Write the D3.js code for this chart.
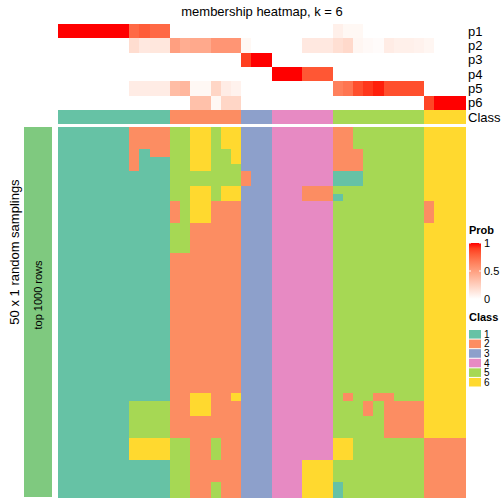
<!DOCTYPE html>
<html><head><meta charset="utf-8">
<script src="https://cdn.jsdelivr.net/npm/d3@7"></script>
<style>body{margin:0;background:#fff;} svg{display:block;font-family:"Liberation Sans",Arial,sans-serif;} rect.cell{shape-rendering:crispEdges;}</style>
</head><body><svg id="c" width="504" height="504"></svg>
<script>
const title = "membership heatmap, k = 6";
const probRows = ["p1","p2","p3","p4","p5","p6"];
const classes = ["1","2","3","4","5","6"];
const classColors = ["#66C2A5","#FC8D62","#8DA0CB","#E78AC3","#A6D854","#FFD92F"];
const colClass = [1,1,1,1,1,1,1,1,1,1,1, 2,2,2,2,2,2,2, 3,3,3, 4,4,4,4,4,4, 5,5,5,5,5,5,5,5,5, 6,6,6,6];
const p1 = [1,1,1,1,1,1,1,0.75,0.8,0.75,0.75, 0,0,0,0,0,0,0, 0,0,0, 0,0,0,0,0,0, 0.08,0.04,0.04,0,0,0,0,0,0, 0,0,0,0];
const p2 = [0,0,0,0,0,0,0,0.18,0.12,0.13,0.13, 0.5,0.43,0.45,0.45,0.55,0.55,0.55, 0.04,0,0, 0,0,0,0.12,0.12,0.12, 0.17,0.2,0.05,0.03,0.02,0.1,0.08,0.08,0.07, 0.05,0,0,0];
const p3 = [0,0,0,0,0,0,0,0,0,0,0, 0,0,0,0,0,0,0, 0.9,1,1, 0,0,0,0,0,0, 0,0,0,0,0,0,0,0,0, 0,0,0,0];
const p4 = [0,0,0,0,0,0,0,0,0,0,0, 0,0,0,0,0,0,0, 0,0,0, 1,1,1,0.82,0.82,0.82, 0,0,0,0,0,0,0,0,0, 0,0,0,0];
const p5 = [0,0,0,0,0,0,0,0.1,0.1,0.1,0.1, 0.35,0.38,0.04,0.04,0.22,0.1,0.07, 0,0,0, 0,0,0,0,0,0, 0.65,0.7,0.85,0.92,0.97,0.85,0.85,0.85,0.85, 0,0,0,0];
const p6 = [0,0,0,0,0,0,0,0,0,0,0, 0,0,0.33,0.33,0.04,0.22,0.22, 0,0,0, 0,0,0,0,0,0, 0,0,0,0,0,0,0,0,0, 0.88,1,1,1];
const samplings = [
"1111111222255665663334444442255555556666",
"1111111222255665663334444442255555556666",
"1111111222255665663334444442255555556666",
"1111111212255665563334444442225555556666",
"1111111211155665563334444442225555556666",
"1111111211155665553334444442225555556666",
"1111111111155555552334444441115555556666",
"1111111111155555552334444441115555556666",
"1111111111155665663334442225555555556666",
"1111111111155665663334442221555555556666",
"1111111111125662223334444445555555552666",
"1111111111125662223334444445555555552666",
"1111111111125662223334444445555555552666",
"1111111111155222223334444445555555556666",
"1111111111155222223334444445555555556666",
"1111111111155222223334444445555555556666",
"1111111111155222223334444445555555556666",
"1111111111122222223334444445555555556666",
"1111111111122222223334444445555555556666",
"1111111111122222223334444445555555556666",
"1111111111122222223334444445555555556666",
"1111111111122222223334444445555555556666",
"1111111111122222223334444445555555556666",
"1111111111122222223334444445555555556666",
"1111111111122222223334444445555555556666",
"1111111111122222223334444445555555556666",
"1111111111122222223334444445555555556666",
"1111111111122222223334444445555555556666",
"1111111111122222223334444445555555556666",
"1111111111122222223334444445555555556666",
"1111111111122222223334444445555555556666",
"1111111111122222223334444445555555556666",
"1111111111122222223334444445555555556666",
"1111111111122222223334444445555555556666",
"1111111111122222223334444445555555556666",
"1111111111122222223334444445555555556666",
"1111111111122662263334444445255225556666",
"1111111555522662223334444445552522226666",
"1111111555522662223334444445552522226666",
"1111111555522222223334444445555522226666",
"1111111555522222223334444445555522226666",
"1111111555522222223334444445555522226666",
"1111111666655225223334444446655555552222",
"1111111666655225223334444446655555552222",
"1111111666655225223334444446655555552222",
"1111111111155222223334446665555555552222",
"1111111111155222223334446665555555552222",
"1111111111155222223334446665555555552222",
"1111111111155225223334446661555555552222",
"1111111111155225223334446661555555552222"
];
const probTicks = [0, 0.5, 1];
const leftTitle = "50 x 1 random samplings";
const annoLabel = "top 1000 rows";

const svg = d3.select("#c");
const nCol = colClass.length;
const x = d3.scaleBand().domain(d3.range(nCol)).range([58, 465]);
const yTop = d3.scaleBand().domain(probRows).range([24, 110]);
const yBot = d3.scaleBand().domain(d3.range(samplings.length)).range([127, 497]);
const probColor = d3.scaleLinear().domain([0,1]).range(["#ffffff","#ff0000"]).interpolate(d3.interpolateLab);
const classColor = d3.scaleOrdinal().domain(classes).range(classColors);

// title
svg.append("text").attr("x", 262).attr("y", 16).attr("text-anchor","middle")
  .attr("font-size", 13).text(title);

// top probability heatmap
const probData = [p1,p2,p3,p4,p5,p6];
probRows.forEach((r, ri) => {
  svg.append("g").selectAll("rect").data(probData[ri]).join("rect").attr("class","cell")
    .attr("x", (d,i) => x(i)).attr("y", yTop(r))
    .attr("width", x.bandwidth()+0.5).attr("height", yTop.bandwidth()+0.5)
    .attr("fill", d => probColor(d));
  svg.append("text").attr("x", 468).attr("y", yTop(r)+yTop.bandwidth()/2)
    .attr("dy","0.35em").attr("font-size", 13).text(r);
});
// class annotation row
svg.append("g").selectAll("rect").data(colClass).join("rect").attr("class","cell")
  .attr("x", (d,i) => x(i)).attr("y", 110).attr("width", x.bandwidth()+0.5).attr("height", 14)
  .attr("fill", d => classColor(String(d)));
svg.append("text").attr("x", 468).attr("y", 117).attr("dy","0.35em").attr("font-size", 13).text("Class");

// bottom samplings heatmap
samplings.forEach((row, ri) => {
  svg.append("g").selectAll("rect").data(row.split("")).join("rect").attr("class","cell")
    .attr("x", (d,i) => x(i)).attr("y", yBot(ri))
    .attr("width", x.bandwidth()+0.5).attr("height", yBot.bandwidth()+0.5)
    .attr("fill", d => classColor(d));
});

// left annotation bar
svg.append("rect").attr("class","cell").attr("x", 24).attr("y", 127).attr("width", 28).attr("height", 370).attr("fill", "#7FC97F");
svg.append("text").attr("transform","translate(38,295) rotate(-90)").attr("text-anchor","middle")
  .attr("dy","0.35em").attr("font-size", 11).text(annoLabel);
svg.append("text").attr("transform","translate(14,252) rotate(-90)").attr("text-anchor","middle")
  .attr("dy","0.35em").attr("font-size", 13).text(leftTitle);

// Prob legend
const lg = svg.append("g");
lg.append("text").attr("x", 469).attr("y", 234).attr("font-size", 11).attr("font-weight","bold").text("Prob");
const defs = svg.append("defs");
const grad = defs.append("linearGradient").attr("id","pg").attr("x1",0).attr("y1",1).attr("x2",0).attr("y2",0);
d3.range(0,1.01,0.1).forEach(t => grad.append("stop").attr("offset", t).attr("stop-color", probColor(t)));
const ly = d3.scaleLinear().domain([0,1]).range([299, 243]);
lg.append("rect").attr("x", 469).attr("y", ly(1)).attr("width", 12).attr("height", ly(0)-ly(1)).attr("fill","url(#pg)");
probTicks.forEach(t => {
  lg.append("line").attr("x1",469).attr("x2",471).attr("y1",ly(t)).attr("y2",ly(t)).attr("stroke","#fff");
  lg.append("line").attr("x1",479).attr("x2",481).attr("y1",ly(t)).attr("y2",ly(t)).attr("stroke","#fff");
  lg.append("text").attr("x", 484).attr("y", ly(t)).attr("dy","0.35em").attr("font-size", 11).text(t);
});

// Class legend
lg.append("text").attr("x", 469).attr("y", 321).attr("font-size", 11).attr("font-weight","bold").text("Class");
const cy = d3.scaleBand().domain(classes).range([329.5, 387]);
classes.forEach(c => {
  lg.append("rect").attr("x", 469).attr("y", cy(c)+0.5).attr("width", 12).attr("height", cy.bandwidth()-1)
    .attr("fill", classColor(c));
  lg.append("text").attr("x", 484).attr("y", cy(c)+cy.bandwidth()/2).attr("dy","0.35em").attr("font-size", 10).text(c);
});
</script></body></html>
